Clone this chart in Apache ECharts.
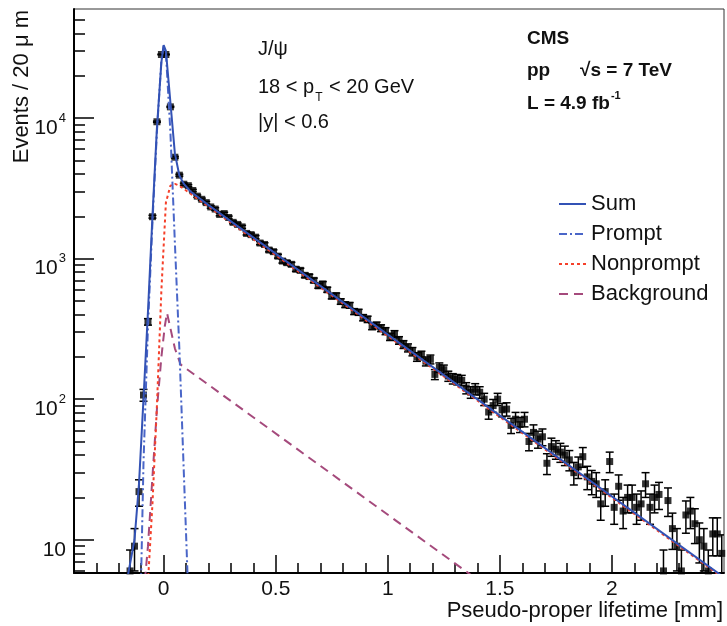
<!DOCTYPE html>
<html>
<head>
<meta charset="utf-8">
<script src="https://cdn.jsdelivr.net/npm/echarts@6/dist/echarts.min.js"></script>
<style>
  html, body { margin: 0; padding: 0; background: #fff; }
  #chart { width: 727px; height: 626px; }
</style>
</head>
<body>
<div id="chart"></div>
<script>
// histogram: 20 um bins, centres from -0.15 mm
const binFirst = -0.15;
const binWidth = 0.02;
const counts = [
  6, 9, 22, 107, 355, 1985, 9400, 28300, 28300, 12000, 5260, 3920, 3380,
  3300, 3050, 2780, 2640, 2500, 2330, 2250, 2060, 2090, 1960,
  1810, 1750, 1680, 1510, 1480, 1420, 1290, 1260, 1150, 1120,
  1040, 960, 935, 910, 840, 825, 760, 745, 700, 640,
  660, 600, 540, 545, 495, 470, 465, 420, 415, 380,
  370, 330, 335, 320, 305, 278, 290, 262, 245, 232,
  218, 200, 205, 186, 192, 150, 168, 162, 146, 140,
  138, 136, 120, 112, 118, 112, 100, 81, 90, 100,
  84,
  85, 65, 72, 66, 72, 50, 58, 52, 54, 35,
  46, 44, 42, 40, 37, 30, 33, 39, 28, 26,
  25, 18, 22, 36, 17, 24, 16, 20, 20, 17,
  18, 25, 17, 20, 21, 6, 19, 12, 9, 6,
  15, 16, 13, 10, 9, 6, 11, 11, 8
];

// fit components [lifetime mm, events]
const sumCurve = [[-0.165, 5], [-0.13, 10], [-0.11, 25], [-0.09, 100], [-0.07, 420], [-0.05, 2000],
  [-0.03, 8500], [-0.01, 25000], [0, 33000], [0.01, 30000], [0.03, 13000], [0.05, 5600],
  [0.07, 3900], [0.09, 3400], [0.12, 3000], [0.2, 2400], [2.5, 5.4]];
const promptCurve = [[-0.11, 3], [-0.1, 6], [-0.09, 35], [-0.07, 330], [-0.05, 1800], [-0.03, 8000],
  [-0.01, 26000], [0, 32500], [0.01, 29000], [0.03, 8000], [0.05, 1300], [0.07, 230],
  [0.09, 30], [0.11, 4]];
const nonpromptCurve = [[-0.07, 5], [-0.05, 18], [-0.03, 90], [-0.01, 600], [0.01, 2500], [0.03, 3300],
  [0.05, 3400], [0.07, 3300], [0.1, 3050], [2.5, 5.3]];
const backgroundCurve = [[-0.09, 4], [-0.07, 9], [-0.05, 28], [-0.03, 85], [-0.01, 200], [0.005, 330],
  [0.015, 410], [0.03, 320], [0.05, 230], [0.076, 176], [1.4, 5.2]];

const xMajor = [0, 0.5, 1, 1.5, 2];
const xMinor = [-0.3, -0.2, -0.1, 0.1, 0.2, 0.3, 0.4, 0.6, 0.7, 0.8, 0.9, 1.1, 1.2, 1.3, 1.4,
  1.6, 1.7, 1.8, 1.9, 2.1, 2.2, 2.3, 2.4];
const yMajor = [10, 100, 1000, 10000];
const yMinor = [6, 7, 8, 9, 20, 30, 40, 50, 60, 70, 80, 90, 200, 300, 400, 500, 600, 700, 800, 900,
  2000, 3000, 4000, 5000, 6000, 7000, 8000, 9000, 20000, 30000, 40000, 50000];

const xMin = -0.4, xMax = 2.5;
const yMin = 5.8, yMax = 59600;

const FONT = '"Liberation Sans", Arial, Helvetica, sans-serif';
const points = counts.map((v, i) => [+(binFirst + i * binWidth).toFixed(2), v]);

let chart = echarts.init(document.getElementById('chart'));

const tick = (len, values) => ({
  show: true, inside: true, length: len, customValues: values,
  lineStyle: { color: '#000', width: 1.5 }
});

const option = {
  animation: false,
  backgroundColor: '#fff',
  grid: { left: 74, right: 3, top: 9, bottom: 53, show: true, borderColor: '#333', borderWidth: 1 },
  legend: {
    data: ['Sum', 'Prompt', 'Nonprompt', 'Background'],
    orient: 'vertical',
    left: 553, top: 188,
    itemWidth: 27, itemHeight: 14, itemGap: 8,
    itemStyle: { opacity: 0 },
    textStyle: { fontFamily: FONT, fontSize: 22, color: '#111', lineHeight: 22 }
  },
  xAxis: [{
    type: 'value', min: xMin, max: xMax,
    axisLine: { onZero: false, lineStyle: { color: '#000', width: 2 } },
    axisTick: tick(18, xMajor),
    axisLabel: { customValues: xMajor, fontFamily: FONT, fontSize: 21, color: '#111', margin: 6 },
    splitLine: { show: false },
    name: 'Pseudo-proper lifetime [mm]',
    nameLocation: 'end', nameGap: 0, nameMoveOverlap: false,
    nameTextStyle: { fontFamily: FONT, fontSize: 22, color: '#111', align: 'right', verticalAlign: 'top', padding: [27, 1, 0, 0] }
  }, {
    type: 'value', min: xMin, max: xMax, position: 'bottom',
    axisLine: { show: false, onZero: false },
    axisTick: tick(10, xMinor),
    axisLabel: { show: false },
    splitLine: { show: false }
  }],
  yAxis: [{
    type: 'log', logBase: 10, min: yMin, max: yMax,
    axisLine: { show: true, onZero: false, lineStyle: { color: '#000', width: 2 } },
    axisTick: tick(20, yMajor),
    axisLabel: {
      customValues: yMajor, margin: 8,
      formatter: v => {
        const p = Math.round(Math.log10(v));
        return p === 1 ? '{b|10}' : '{b|10}{s|' + p + '}';
      },
      rich: {
        b: { fontFamily: FONT, fontSize: 21, lineHeight: 21, color: '#111', verticalAlign: 'top', padding: [10, 0, 0, 0] },
        s: { fontFamily: FONT, fontSize: 13, lineHeight: 13, color: '#111', verticalAlign: 'top', padding: [4, 0, 0, 1] }
      }
    },
    splitLine: { show: false },
    name: 'Events / 20 μ m',
    nameLocation: 'end', nameRotate: 90, nameGap: -1, nameMoveOverlap: false,
    nameTextStyle: { fontFamily: FONT, fontSize: 22, color: '#111', align: 'right', verticalAlign: 'bottom', padding: [0, 0, 41, 0] }
  }, {
    type: 'log', logBase: 10, min: yMin, max: yMax, position: 'left',
    axisLine: { show: false, onZero: false },
    axisTick: tick(11, yMinor),
    axisLabel: { show: false },
    splitLine: { show: false }
  }],
  graphic: [
    { type: 'text', left: 258, top: 39, style: { text: 'J/ψ', font: '20px ' + FONT, fill: '#111' } },
    { type: 'text', left: 258, top: 77, style: {
      text: '{b|18 < p}{s|T}{b| < 20 GeV}',
      rich: {
        b: { font: '20px ' + FONT, fill: '#111', lineHeight: 20, verticalAlign: 'top' },
        s: { font: '12px ' + FONT, fill: '#111', lineHeight: 12, verticalAlign: 'top', padding: [15, 1, 0, 1] }
      } } },
    { type: 'text', left: 258, top: 112, style: { text: '|y| < 0.6', font: '20px ' + FONT, fill: '#111' } },
    { type: 'text', left: 527, top: 29, style: { text: 'CMS', font: 'bold 19px ' + FONT, fill: '#111' } },
    { type: 'text', left: 527, top: 61, style: { text: 'pp', font: 'bold 19px ' + FONT, fill: '#111' } },
    { type: 'text', left: 580, top: 61, style: { text: '√s = 7 TeV', font: 'bold 19px ' + FONT, fill: '#111' } },
    { type: 'text', left: 527, top: 88, style: {
      text: '{b|L = 4.9 fb}{s|-1}',
      rich: {
        b: { font: 'bold 19px ' + FONT, fill: '#111', lineHeight: 19, verticalAlign: 'top', padding: [6, 0, 0, 0] },
        s: { font: 'bold 11px ' + FONT, fill: '#111', lineHeight: 11, verticalAlign: 'top', padding: [2, 0, 0, 1] }
      } } }
  ],
  series: [
    {
      name: 'errors', type: 'custom', clip: true, z: 2,
      data: points,
      renderItem: (params, api) => {
        const x = api.value(0), v = api.value(1), e = Math.sqrt(v);
        const top = api.coord([x, v + e]);
        const bot = api.coord([x, Math.max(v - e, 1)]);
        const st = { stroke: '#000', lineWidth: 1.5 };
        return {
          type: 'group', children: [
            { type: 'line', shape: { x1: top[0], y1: top[1], x2: bot[0], y2: bot[1] }, style: st },
            { type: 'line', shape: { x1: top[0] - 4, y1: top[1], x2: top[0] + 4, y2: top[1] }, style: st },
            { type: 'line', shape: { x1: bot[0] - 4, y1: bot[1], x2: bot[0] + 4, y2: bot[1] }, style: st }
          ]
        };
      }
    },
    {
      name: 'data', type: 'scatter', z: 3, symbol: 'rect', symbolSize: 7,
      itemStyle: { color: '#000' }, data: points
    },
    {
      name: 'Background', type: 'line', z: 4, symbol: 'none', data: backgroundCurve,
      lineStyle: { color: '#a54a7c', width: 2, type: [9, 6] }, itemStyle: { color: '#a54a7c' }
    },
    {
      name: 'Nonprompt', type: 'line', z: 4, symbol: 'none', data: nonpromptCurve,
      lineStyle: { color: '#f5402a', width: 2, type: [3, 3] }, itemStyle: { color: '#f5402a' }
    },
    {
      name: 'Prompt', type: 'line', z: 4, symbol: 'none', data: promptCurve,
      lineStyle: { color: '#4a66c8', width: 2, type: [8, 3, 2, 3] }, itemStyle: { color: '#4a66c8' }
    },
    {
      name: 'Sum', type: 'line', z: 5, symbol: 'none', data: sumCurve,
      lineStyle: { color: '#3352b5', width: 2 }, itemStyle: { color: '#3352b5' }
    }
  ]
};

option && chart.setOption(option);
</script>
</body>
</html>
